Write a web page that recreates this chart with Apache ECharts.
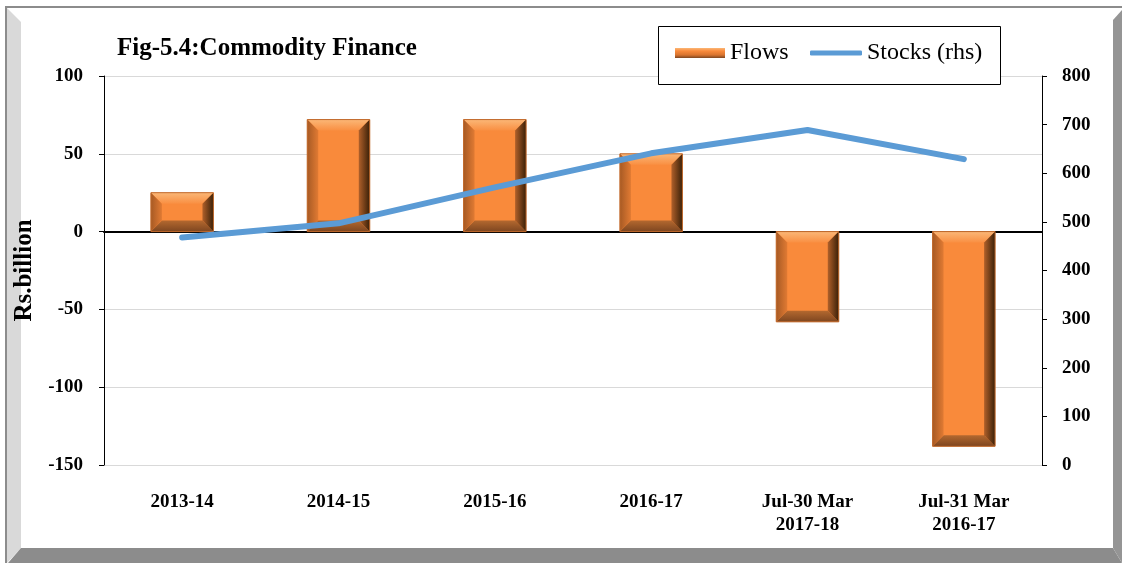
<!DOCTYPE html>
<html>
<head>
<meta charset="utf-8">
<script src="https://cdn.jsdelivr.net/npm/echarts@6/dist/echarts.min.js"></script>
<style>
  html, body { margin: 0; padding: 0; background: #fff; }
  #chart { width: 1122px; height: 563px; }
</style>
</head>
<body>
<div id="chart"></div>
<script>
// values (Rs. billion)
const categories = ["2013-14", "2014-15", "2015-16", "2016-17", "Jul-30 Mar\n2017-18", "Jul-31 Mar\n2016-17"];
const flows = [25, 72, 72, 50, -58, -138];
const stocks = [468, 497, 571, 641, 689, 629];
const leftTicks = { min: -150, max: 100, interval: 50 };
const rightTicks = { min: 0, max: 800, interval: 100 };

const serif = "Liberation Serif";
const orange = "#f98a3b";
const blue = "#5b9bd5";

// bevelled bar, drawn from the axis scales
function bevelBar(params, api) {
  const idx = api.value(0);
  const val = api.value(1);
  const p0 = api.coord([idx, 0]);
  const p1 = api.coord([idx, val]);
  const bw = api.size([1, 0])[0] * 0.4;
  const l = p0[0] - bw / 2, r = l + bw;
  const t = Math.min(p0[1], p1[1]), b = Math.max(p0[1], p1[1]);
  const e = Math.min(11, (b - t) / 3, bw / 3);
  const poly = (pts, fill) => ({ type: "polygon", shape: { points: pts }, style: { fill: fill } });
  const lin = (x1, y1, x2, y2, c1, c2) => new echarts.graphic.LinearGradient(x1, y1, x2, y2, [
    { offset: 0, color: c1 }, { offset: 1, color: c2 }]);
  return {
    type: "group",
    children: [
      { type: "rect", shape: { x: l, y: t, width: bw, height: b - t }, style: { fill: orange } },
      poly([[l, t], [r, t], [r - e, t + e], [l + e, t + e]], lin(0, 0, 0, 1, "#fbb777", "#f98f42")),
      poly([[l, b], [r, b], [r - e, b - e], [l + e, b - e]], lin(0, 0, 0, 1, "#b3682f", "#7e4620")),
      poly([[l, t], [l + e, t + e], [l + e, b - e], [l, b]], lin(0, 0, 1, 0, "#a75a24", "#e07a33")),
      poly([[r, t], [r - e, t + e], [r - e, b - e], [r, b]], lin(0, 0, 1, 0, "#b0602a", "#3a2008")),
      { type: "rect", shape: { x: l, y: t, width: bw, height: b - t }, style: { fill: "none", stroke: "#c0692c", lineWidth: 1 } }
    ]
  };
}

const legendText = { fontFamily: serif, fontSize: 24, color: "#000" };

const chart = echarts.init(document.getElementById("chart"));
chart.setOption({
  animation: false,
  textStyle: { fontFamily: serif, color: "#000" },
  title: {
    text: "Fig-5.4:Commodity Finance",
    left: 112, top: 31,
    textStyle: { fontFamily: serif, fontWeight: "bold", fontSize: 25, color: "#000" }
  },
  legend: [
    {
      left: 675, top: 41, padding: 0, z: 10,
      itemWidth: 50, itemHeight: 10, itemGap: 0,
      textStyle: legendText,
      data: [{ name: "Flows", icon: "rect",
        itemStyle: { color: new echarts.graphic.LinearGradient(0, 0, 0, 1, [
          { offset: 0, color: "#fbb777" }, { offset: 0.3, color: orange },
          { offset: 0.7, color: "#d8742f" }, { offset: 1, color: "#7e4620" }]) } }]
    },
    {
      left: 810, top: 41, padding: 0, z: 10,
      itemWidth: 52, itemHeight: 5, itemGap: 0,
      textStyle: legendText,
      data: [{ name: "Stocks (rhs)", icon: "roundRect", itemStyle: { color: blue } }]
    }
  ],
  grid: { left: 104, right: 80, top: 76, bottom: 98, containLabel: false, outerBoundsMode: "none" },
  xAxis: [
    {
      type: "category", data: categories, position: "bottom",
      axisLine: { show: false, onZero: false }, axisTick: { show: false },
      axisLabel: { fontFamily: serif, fontWeight: "bold", fontSize: 19, color: "#000", margin: 26, lineHeight: 23 }
    },
    {
      type: "category", data: categories, position: "bottom",
      axisLine: { show: true, onZero: true, lineStyle: { color: "#000", width: 2 } },
      axisTick: { show: false }, axisLabel: { show: false }
    }
  ],
  yAxis: [
    {
      type: "value", min: leftTicks.min, max: leftTicks.max, interval: leftTicks.interval,
      name: "Rs.billion", nameLocation: "middle", nameGap: 63, nameRotate: 90,
      nameTextStyle: { fontFamily: serif, fontWeight: "bold", fontSize: 25, color: "#000" },
      axisLine: { show: true, lineStyle: { color: "#000", width: 1 } },
      axisTick: { show: true, length: 5, lineStyle: { color: "#000" } },
      axisLabel: { fontFamily: serif, fontWeight: "bold", fontSize: 19, color: "#000", margin: 21 },
      splitLine: { show: true, lineStyle: { color: "#d9d9d9", width: 1 } }
    },
    {
      type: "value", position: "right", min: rightTicks.min, max: rightTicks.max, interval: rightTicks.interval,
      axisLine: { show: true, lineStyle: { color: "#000", width: 1 } },
      axisTick: { show: true, length: 5, lineStyle: { color: "#000" } },
      axisLabel: { fontFamily: serif, fontWeight: "bold", fontSize: 19, color: "#000", margin: 20 },
      splitLine: { show: false }
    }
  ],
  series: [
    {
      name: "Flows", type: "custom", xAxisIndex: 0, yAxisIndex: 0,
      renderItem: bevelBar,
      encode: { x: 0, y: 1 },
      data: flows.map((v, i) => [i, v]),
      itemStyle: { color: orange },
      z: 2
    },
    {
      name: "Stocks (rhs)", type: "line", xAxisIndex: 0, yAxisIndex: 1,
      data: stocks, symbol: "none", showSymbol: false,
      lineStyle: { color: blue, width: 6, cap: "round", join: "round" },
      itemStyle: { color: blue },
      z: 5
    }
  ],
  graphic: [
    { type: "rect", shape: { x: 5, y: 6, width: 1117, height: 2 }, style: { fill: "#8c8c8c" }, silent: true },
    { type: "rect", shape: { x: 5, y: 6, width: 2, height: 557 }, style: { fill: "#8c8c8c" }, silent: true },
    { type: "polygon", shape: { points: [[7, 8], [21, 22], [21, 548], [7, 563]] }, style: { fill: "#d9d9d9" }, silent: true },
    { type: "polygon", shape: { points: [[21, 548], [1113, 548], [1122, 563], [8, 563]] }, style: { fill: "#8c8c8c" }, silent: true },
    { type: "polygon", shape: { points: [[1113, 20], [1122, 10], [1122, 563], [1113, 548]] }, style: { fill: "#959595" }, silent: true },
    // legend frame
    { type: "rect", z: 8, shape: { x: 658.5, y: 26.5, width: 342, height: 58 },
      style: { fill: "#fff", stroke: "#000", lineWidth: 1 }, silent: true }
  ]
});
</script>
</body>
</html>
